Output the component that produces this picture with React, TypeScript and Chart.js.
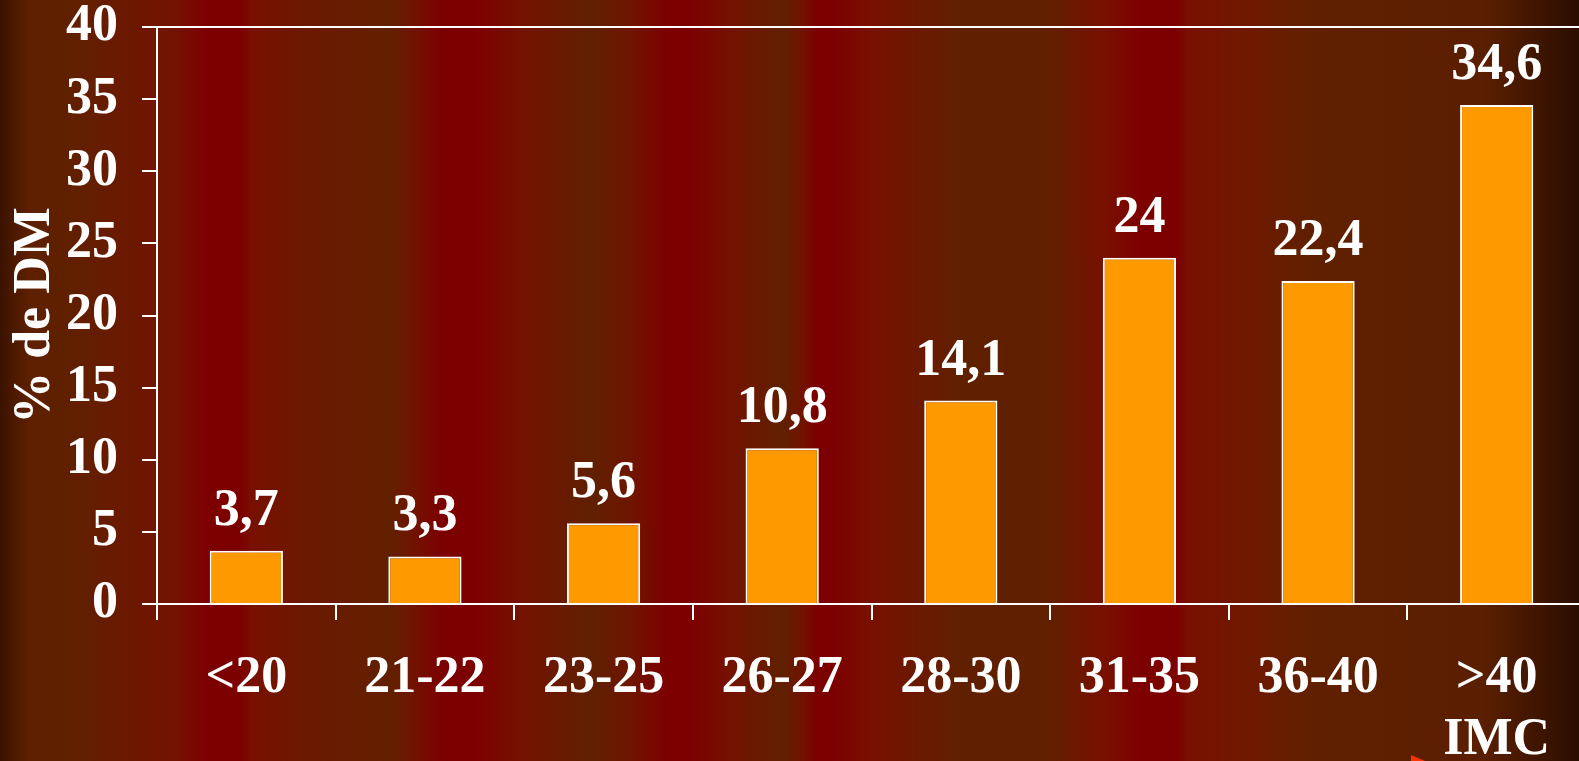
import React, { useEffect, useRef } from 'react';
import { Chart, registerables } from 'chart.js';

Chart.register(...registerables);

const categories: (string | string[])[] = ['<20', '21-22', '23-25', '26-27', '28-30', '31-35', '36-40', ['>40', 'IMC']];
const diabetesPct: number[] = [3.7, 3.3, 5.6, 10.8, 14.1, 24, 22.4, 34.6];
const yMin = 0;
const yMax = 40;
const yStep = 5;
const yAxisTitle = '% de DM';

const FONT = "'Liberation Serif', 'Times New Roman', serif";

// background stripes (page x in px, color)
const bgStops: [number, string][] = [
  [0, '#3a1200'],
  [12, '#4a1800'],
  [30, '#5e2000'],
  [70, '#602000'],
  [175, '#741200'],
  [208, '#7d0000'],
  [240, '#7d0000'],
  [252, '#781000'],
  [300, '#6c1800'],
  [390, '#622000'],
  [412, '#701400'],
  [442, '#7d0000'],
  [475, '#7d0000'],
  [520, '#741200'],
  [592, '#602000'],
  [632, '#701400'],
  [668, '#7d0000'],
  [690, '#7d0000'],
  [730, '#741200'],
  [782, '#602000'],
  [806, '#741000'],
  [816, '#7d0000'],
  [832, '#7d0000'],
  [870, '#781000'],
  [960, '#602000'],
  [1045, '#602000'],
  [1105, '#781000'],
  [1140, '#7d0000'],
  [1176, '#7d0000'],
  [1188, '#781000'],
  [1245, '#701800'],
  [1310, '#602000'],
  [1485, '#5a1e00'],
  [1579, '#2a0e00'],
];

const backgroundPlugin = {
  id: 'stripedBackground',
  beforeDraw(chart: any) {
    const { ctx, width, height } = chart;
    ctx.save();
    const g = ctx.createLinearGradient(0, 0, 1579, 0);
    bgStops.forEach(([x, c]) => g.addColorStop(Math.min(1, x / 1579), c));
    ctx.fillStyle = g;
    ctx.fillRect(0, 0, width, height);
    // small arrow fragment at the bottom
    ctx.fillStyle = '#ff3300';
    ctx.beginPath();
    ctx.moveTo(1411, 755);
    ctx.lineTo(1425, 761);
    ctx.lineTo(1411, 761);
    ctx.closePath();
    ctx.fill();
    ctx.restore();
  },
};

const valueLabelPlugin = {
  id: 'valueLabels',
  afterDatasetsDraw(chart: any) {
    const { ctx } = chart;
    const meta = chart.getDatasetMeta(0);
    ctx.save();
    ctx.fillStyle = '#ffffff';
    ctx.font = `bold 52px ${FONT}`;
    ctx.textAlign = 'center';
    ctx.textBaseline = 'alphabetic';
    meta.data.forEach((bar: any, i: number) => {
      const v = diabetesPct[i];
      const txt = String(v).replace('.', ',');
      ctx.fillText(txt, bar.x, bar.y - 26);
    });
    ctx.restore();
  },
};

const zeroPadding = (scale: any) => {
  scale.paddingTop = 0;
  scale.paddingBottom = 0;
  scale.paddingLeft = 0;
  scale.paddingRight = 0;
};

export default function App() {
  const canvasRef = useRef<HTMLCanvasElement | null>(null);

  useEffect(() => {
    if (!canvasRef.current) return;
    const chart = new Chart(canvasRef.current, {
      type: 'bar',
      data: {
        labels: categories,
        datasets: [
          {
            data: diabetesPct,
            backgroundColor: '#ff9900',
            borderColor: '#ffffff',
            borderWidth: 2,
            categoryPercentage: 1,
            barPercentage: 0.41,
          },
        ],
      },
      options: {
        responsive: false,
        animation: false,
        layout: { padding: { left: 0, right: 14, top: 27, bottom: 0 } },
        plugins: {
          legend: { display: false },
          tooltip: { enabled: false },
        },
        scales: {
          x: {
            offset: true,
            grid: {
              display: true,
              drawOnChartArea: false,
              drawTicks: true,
              tickLength: 16,
              color: '#ffffff',
              lineWidth: 2,
              offset: true,
            },
            border: { display: true, color: '#ffffff', width: 2 },
            ticks: {
              color: '#ffffff',
              padding: 27,
              maxRotation: 0,
              autoSkip: false,
              font: { family: FONT, size: 52, weight: 'bold', lineHeight: 1.2 },
            },
            afterFit: (scale: any) => {
              scale.height = 157;
              zeroPadding(scale);
            },
          },
          y: {
            min: yMin,
            max: yMax,
            ticks: {
              stepSize: yStep,
              color: '#ffffff',
              padding: 24,
              font: { family: FONT, size: 52, weight: 'bold', lineHeight: 1.0 },
            },
            grid: {
              drawTicks: true,
              tickLength: 15,
              lineWidth: 2,
              color: (ctx: any) => (ctx.tick && ctx.tick.value === yMax ? '#ffffff' : 'rgba(0,0,0,0)'),
              tickColor: '#ffffff',
            },
            border: { display: true, color: '#ffffff', width: 2 },
            title: {
              display: true,
              text: yAxisTitle,
              color: '#ffffff',
              padding: { top: 4, bottom: 0 },
              font: { family: FONT, size: 52, weight: 'bold', lineHeight: 1.2 },
            },
            afterFit: (scale: any) => {
              scale.width = 157;
              zeroPadding(scale);
            },
          },
        },
      },
      plugins: [backgroundPlugin, valueLabelPlugin],
    } as any);
    return () => chart.destroy();
  }, []);

  return (
    <div style={{ position: 'fixed', left: 0, top: 0, width: 1579, height: 761, overflow: 'hidden' }}>
      <div style={{ width: 1600, height: 761 }}>
        <canvas ref={canvasRef} width={1600} height={761} style={{ display: 'block' }} />
      </div>
    </div>
  );
}
